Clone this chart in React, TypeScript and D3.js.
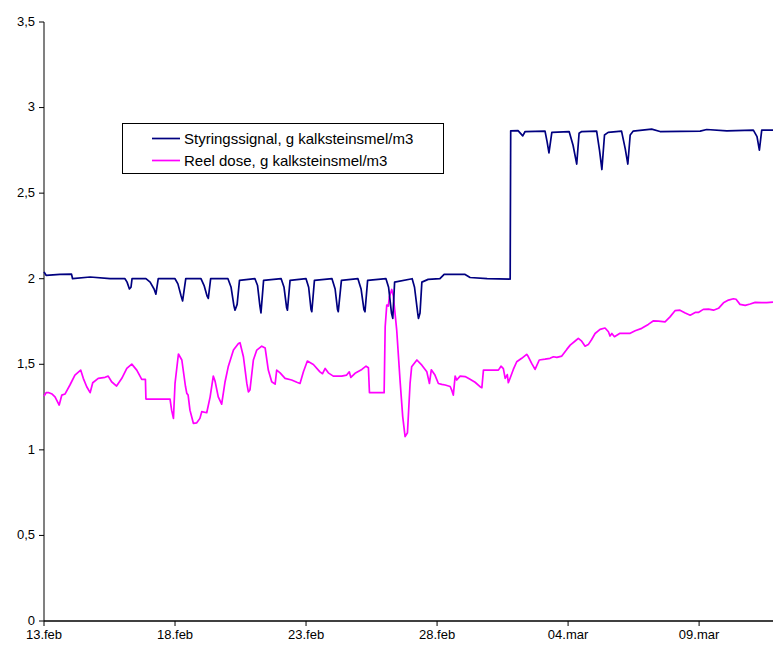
import * as d3 from 'd3';

// days after 13.feb 00:00 and the read values
const styringDays = [0.00, 0.08, 0.61, 1.05, 1.09, 1.76, 2.52, 3.09, 3.17, 3.26, 3.32, 3.36, 3.89, 4.05, 4.20, 4.27, 4.36,
    5.00, 5.11, 5.23, 5.29, 5.41, 5.99, 6.11, 6.22, 6.27, 6.36, 7.02, 7.14, 7.25, 7.29, 7.37, 7.46,
    8.05, 8.15, 8.24, 8.28, 8.38, 9.05, 9.16, 9.26, 9.29, 9.39, 10.00, 10.10, 10.19, 10.22, 10.32,
    10.99, 11.11, 11.20, 11.23, 11.35, 11.98, 12.10, 12.21, 12.25, 12.35, 13.05, 13.15, 13.26, 13.31, 13.38,
    14.05, 14.14, 14.26, 14.29, 14.35, 14.42, 14.66, 15.11, 15.27, 16.07, 16.26, 16.91, 17.79, 17.81,
    18.09, 18.27, 18.36, 19.12, 19.20, 19.27, 19.38, 20.04, 20.19, 20.33, 20.42, 20.52,
    21.09, 21.20, 21.29, 21.39, 21.53, 22.04, 22.18, 22.28, 22.37, 22.48, 23.19, 23.51, 25.04, 25.29,
    26.06, 27.07, 27.21, 27.30, 27.39, 27.82];
const styringValues = [2.04, 2.02, 2.025, 2.027, 2.00, 2.01, 2.00, 2.00, 1.98, 1.94, 1.95, 2.00, 2.00, 1.98, 1.94, 1.91, 2.00,
    2.00, 1.97, 1.90, 1.87, 2.00, 2.00, 1.96, 1.90, 1.885, 2.00, 2.00, 1.95, 1.84, 1.816, 1.85, 1.99,
    2.00, 1.96, 1.84, 1.80, 1.99, 2.00, 1.95, 1.83, 1.816, 1.99, 2.00, 1.95, 1.82, 1.807, 1.99,
    2.00, 1.94, 1.82, 1.807, 1.99, 2.00, 1.94, 1.82, 1.807, 1.99, 2.00, 1.95, 1.80, 1.768, 1.98,
    2.00, 1.95, 1.80, 1.768, 1.80, 1.98, 1.996, 2.00, 2.025, 2.025, 2.007, 2.00, 1.998, 2.864,
    2.865, 2.835, 2.86, 2.862, 2.80, 2.735, 2.855, 2.86, 2.78, 2.67, 2.85, 2.86,
    2.862, 2.75, 2.638, 2.84, 2.855, 2.862, 2.76, 2.67, 2.84, 2.862, 2.874, 2.86, 2.862, 2.872,
    2.864, 2.868, 2.83, 2.751, 2.868, 2.868];

const doseDays = [0.00, 0.08, 0.19, 0.31, 0.42, 0.58, 0.68, 0.80, 0.99, 1.18, 1.40, 1.50, 1.63, 1.76, 1.86, 2.07, 2.33, 2.45,
    2.58, 2.77, 2.97, 3.16, 3.35, 3.54, 3.73, 3.87, 3.89, 4.81, 4.87, 4.94, 5.00, 5.13, 5.26, 5.40, 5.45, 5.50,
    5.57, 5.70, 5.83, 5.95, 6.02, 6.21, 6.34, 6.46, 6.53, 6.65, 6.78, 6.91, 7.03, 7.23, 7.42, 7.48, 7.61, 7.74,
    7.80, 7.86, 7.99, 8.12, 8.31, 8.44, 8.56, 8.69, 8.82, 8.88, 9.01, 9.20, 9.45, 9.65, 9.77, 9.90, 10.05, 10.28,
    10.53, 10.63, 10.73, 10.85, 11.04, 11.36, 11.55, 11.65, 11.71, 11.87, 12.13, 12.29, 12.38, 12.42, 12.98,
    13.02, 13.08, 13.14, 13.18, 13.27, 13.33, 13.46, 13.59, 13.69, 13.78, 13.87, 13.97, 14.03, 14.23, 14.42,
    14.61, 14.71, 14.78, 14.92, 15.05, 15.18, 15.31, 15.50, 15.56, 15.62, 15.69, 15.75, 15.88, 16.07, 16.26,
    16.45, 16.64, 16.71, 16.77, 17.34, 17.44, 17.53, 17.60, 17.68, 17.72, 17.79, 17.91, 18.04, 18.23, 18.42,
    18.48, 18.61, 18.74, 18.90, 19.12, 19.31, 19.44, 19.57, 19.76, 19.95, 20.08, 20.27, 20.39, 20.52, 20.65,
    20.77, 20.90, 21.03, 21.22, 21.41, 21.54, 21.60, 21.67, 21.77, 21.98, 22.37, 22.56, 22.81, 23.06, 23.26,
    23.45, 23.70, 23.89, 24.08, 24.27, 24.47, 24.66, 24.85, 24.97, 25.16, 25.36, 25.55, 25.74, 25.93, 26.12,
    26.31, 26.41, 26.56, 26.76, 26.95, 27.14, 27.39, 27.58, 27.82];
const doseValues = [1.314, 1.334, 1.334, 1.326, 1.31, 1.262, 1.32, 1.326, 1.379, 1.437, 1.466, 1.418, 1.369, 1.334, 1.392, 1.418, 1.424, 1.431,
    1.398, 1.373, 1.418, 1.476, 1.501, 1.466, 1.412, 1.412, 1.297, 1.297, 1.232, 1.184, 1.388, 1.56, 1.525, 1.37, 1.33, 1.32,
    1.232, 1.155, 1.158, 1.184, 1.223, 1.217, 1.31, 1.431, 1.40, 1.31, 1.267, 1.398, 1.485, 1.583, 1.622, 1.626, 1.544, 1.388,
    1.339, 1.35, 1.525, 1.583, 1.606, 1.595, 1.466, 1.398, 1.384, 1.466, 1.45, 1.418, 1.408, 1.395, 1.388, 1.456, 1.519, 1.499,
    1.456, 1.445, 1.476, 1.45, 1.431, 1.431, 1.437, 1.456, 1.423, 1.447, 1.47, 1.489, 1.48, 1.334, 1.334,
    1.719, 1.846, 1.84, 1.894, 1.937, 1.90, 1.70, 1.40, 1.193, 1.077, 1.10, 1.388, 1.485, 1.525, 1.495,
    1.456, 1.388, 1.468, 1.437, 1.388, 1.383, 1.379, 1.37, 1.349, 1.32, 1.431, 1.408, 1.431, 1.428, 1.412,
    1.395, 1.369, 1.363, 1.466, 1.466, 1.489, 1.475, 1.418, 1.44, 1.392, 1.42, 1.47, 1.515, 1.535, 1.558,
    1.545, 1.505, 1.47, 1.525, 1.53, 1.535, 1.544, 1.54, 1.548, 1.587, 1.612, 1.636, 1.651, 1.635, 1.606,
    1.615, 1.645, 1.68, 1.704, 1.712, 1.69, 1.665, 1.68, 1.661, 1.681, 1.681, 1.696, 1.71, 1.733, 1.754,
    1.752, 1.748, 1.777, 1.813, 1.816, 1.80, 1.787, 1.803, 1.803, 1.821, 1.822, 1.816, 1.827, 1.859, 1.875,
    1.883, 1.88, 1.85, 1.844, 1.852, 1.862, 1.86, 1.86, 1.863];

const yTicks = [0, 0.5, 1, 1.5, 2, 2.5, 3, 3.5];
const xTickDays = [0, 5, 10, 15, 20, 25];
const monthNames = ["jan", "feb", "mar", "apr", "mai", "jun", "jul", "aug", "sep", "okt", "nov", "des"];
const seriesNames = ["Styringssignal, g kalksteinsmel/m3", "Reel dose, g kalksteinsmel/m3"];
const seriesColors = ["#000080", "#FF00FF"];

const startDate = new Date(2008, 1, 13);
const dayToDate = (d: number) => new Date(startDate.getTime() + d * 86400000);

const W = 773, H = 648;
const margin = {left: 44, right: 0, top: 22, bottom: 27};
const font = "'Liberation Sans', Arial, sans-serif";

const locale = d3.formatLocale({decimal: ",", thousands: ".", grouping: [3], currency: ["", ""]});
const fmtY = locale.format("~g");
const fmtX = (d: Date) => d3.timeFormat("%d")(d) + "." + monthNames[d.getMonth()];

const App = () => {
    const x = d3.scaleTime()
        .domain([startDate, dayToDate(27.82)])
        .range([margin.left, W - margin.right]);
    const y = d3.scaleLinear().domain([0, 3.5]).range([H - margin.bottom, margin.top]);

    const line = d3.line<[number, number]>()
        .x(d => x(dayToDate(d[0])))
        .y(d => y(d[1]));

    const styring = styringDays.map((d, i) => [d, styringValues[i]] as [number, number]);
    const dose = doseDays.map((d, i) => [d, doseValues[i]] as [number, number]);

    const x0 = margin.left, y0 = H - margin.bottom;

    return (
        <svg width={W} height={H} style={{position: "absolute", left: 0, top: 0, background: "#fff"}} fontFamily={font}>
            {/* y axis */}
            <line x1={x0} x2={x0} y1={y(3.5)} y2={y0} stroke="#808080" strokeWidth={2} />
            {yTicks.map(t => (
                <g key={t} transform={`translate(0,${y(t)})`}>
                    <line x1={x0 - 5} x2={x0} stroke="#000" strokeWidth={1} />
                    <text x={x0 - 9} dy="0.3em" textAnchor="end" fontSize={13} fill="#000">{fmtY(t)}</text>
                </g>
            ))}
            {/* x axis */}
            <line x1={x0} x2={W} y1={y0} y2={y0} stroke="#000" strokeWidth={1.5} />
            {xTickDays.map(t => (
                <g key={t} transform={`translate(${x(dayToDate(t))},0)`}>
                    <line y1={y0} y2={y0 + 5} stroke="#000" strokeWidth={1} />
                    <text y={y0 + 18} textAnchor="middle" fontSize={13} fill="#000">{fmtX(dayToDate(t))}</text>
                </g>
            ))}

            <path d={line(dose) ?? ""} fill="none" stroke={seriesColors[1]} strokeWidth={1.7} strokeLinejoin="round" />
            <path d={line(styring) ?? ""} fill="none" stroke={seriesColors[0]} strokeWidth={1.7} strokeLinejoin="round" />

            {/* legend */}
            <g transform="translate(122,123)">
                <rect x={0.5} y={0.5} width={321} height={50} fill="#fff" stroke="#000" strokeWidth={1} />
                {seriesNames.map((name, i) => (
                    <g key={name} transform={`translate(0,${15.5 + i * 22})`}>
                        <line x1={30} x2={58} stroke={seriesColors[i]} strokeWidth={1.7} />
                        <text x={62} dy="0.35em" fontSize={15} fill="#000">{name}</text>
                    </g>
                ))}
            </g>
        </svg>
    );
};

export default App;
